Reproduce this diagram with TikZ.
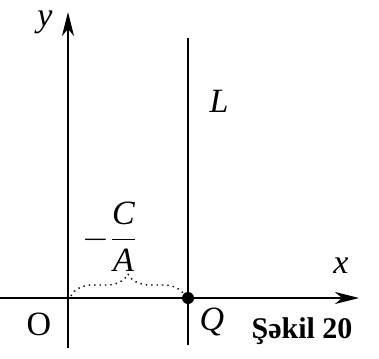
\documentclass[tikz,border=0pt]{standalone}
\usepackage{fontspec}
\setmainfont{Liberation Serif}
\usetikzlibrary{arrows.meta,decorations.pathreplacing}

\tikzset{
  axis/.style={line width=1pt,-{Stealth[length=12pt,width=6pt,inset=3.5pt]}},
  lab/.style={font=\fontsize{17}{19}\selectfont\itshape},
  pt/.style={circle,fill,inner sep=0pt,minimum size=6pt}
}

\begin{document}
\begin{tikzpicture}[x=0.5pt,y=-0.5pt]

   \useasboundingbox (0,0) rectangle (379,358);

   \coordinate (ybot) at (68,348);
   \coordinate (ytop) at (68,12);
   \coordinate (xleft) at (0,298);
   \coordinate (xright) at (359,298);
   \coordinate (Ltop) at (188,38);
   \coordinate (Lbot) at (188,345);

   \draw [axis] (ybot) -- (ytop);
   \draw [axis] (xleft) -- (xright);
   \draw [line width=1pt] (Ltop) -- (Lbot);
   \node [pt] (Q) at (188,298) {};

   % brace between the y axis and Q
   \coordinate (bl) at (71,296);
   \coordinate (br) at (185,296);
   \draw [dotted, line width=0.7pt, decorate, decoration={brace,amplitude=11pt}] (bl) -- (br);

   \node [lab] (ylab) at (45,22) {y};
   \node [lab] (xlab) at (341,266) {x};
   \node [lab] (Llab) at (219,101) {L};
   \node [lab] (Qlab) at (212,322) {Q};
   \node [font=\fontsize{17}{19}\selectfont] (Olab) at (39,324) {O};
   \node [lab] (frac) at (110,237) {$-\displaystyle\frac{\textit{C}}{\textit{A}}$};
   \node [font=\fontsize{15}{17}\selectfont\bfseries] (cap) at (302,331) {Şəkil 20};

 \end{tikzpicture}
\end{document}
